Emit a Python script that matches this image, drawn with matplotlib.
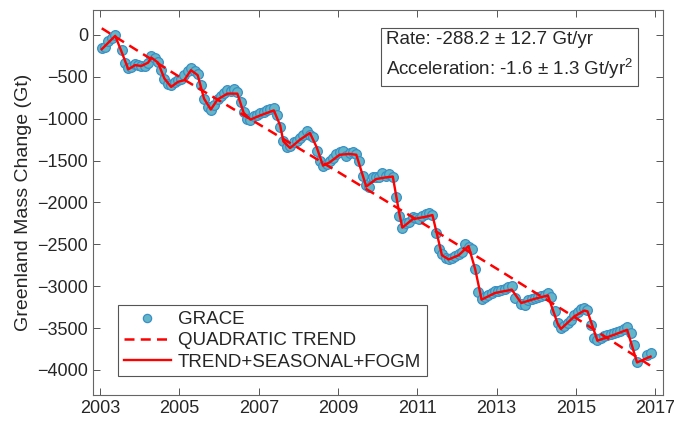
import matplotlib.pyplot as plt

plt.rcParams['font.family'] = ['Liberation Sans', 'DejaVu Sans']
plt.rcParams['mathtext.fontset'] = 'custom'
plt.rcParams['mathtext.rm'] = 'Liberation Sans'

# GRACE monthly mass change (Gt)
grace_t = [2003.04, 2003.12, 2003.21, 2003.29, 2003.38, 2003.54, 2003.62, 2003.71, 2003.79, 2003.88, 2003.96,
           2004.04, 2004.12, 2004.21, 2004.29, 2004.38, 2004.46, 2004.54, 2004.62, 2004.71, 2004.79, 2004.88, 2004.96,
           2005.04, 2005.12, 2005.21, 2005.29, 2005.38, 2005.46, 2005.54, 2005.62, 2005.71, 2005.79, 2005.88, 2005.96,
           2006.04, 2006.12, 2006.21, 2006.29, 2006.38, 2006.46, 2006.54, 2006.62, 2006.71, 2006.79, 2006.88, 2006.96,
           2007.04, 2007.12, 2007.21, 2007.29, 2007.38, 2007.46, 2007.54, 2007.62, 2007.71, 2007.79, 2007.88, 2007.96,
           2008.04, 2008.12, 2008.21, 2008.29, 2008.38, 2008.46, 2008.54, 2008.62, 2008.71, 2008.79, 2008.88, 2008.96,
           2009.04, 2009.12, 2009.21, 2009.29, 2009.38, 2009.46, 2009.54, 2009.62, 2009.71, 2009.79, 2009.88, 2009.96,
           2010.04, 2010.12, 2010.21, 2010.29, 2010.38, 2010.46, 2010.54, 2010.62, 2010.71, 2010.79, 2010.88, 2010.96,
           2011.04, 2011.12, 2011.21, 2011.29, 2011.38, 2011.46, 2011.54, 2011.62, 2011.71, 2011.79, 2011.88, 2011.96,
           2012.04, 2012.12, 2012.21, 2012.29, 2012.38, 2012.46, 2012.54, 2012.62, 2012.71, 2012.79, 2012.88, 2012.96,
           2013.04, 2013.12, 2013.21, 2013.29, 2013.38, 2013.46, 2013.62, 2013.71, 2013.79, 2013.88, 2013.96,
           2014.04, 2014.12, 2014.21, 2014.29, 2014.38, 2014.46, 2014.54, 2014.62, 2014.71, 2014.79, 2014.88, 2014.96,
           2015.04, 2015.12, 2015.21, 2015.29, 2015.38, 2015.46, 2015.54, 2015.62, 2015.71, 2015.79, 2015.88, 2015.96,
           2016.04, 2016.12, 2016.21, 2016.29, 2016.38, 2016.46, 2016.54, 2016.79, 2016.88]
grace_v = [-150, -145, -70, -30, 0, -180, -340, -400, -380, -350, -355,
           -370, -365, -330, -255, -270, -320, -420, -530, -580, -600, -560, -540,
           -530, -480, -430, -400, -430, -470, -600, -760, -860, -900, -830, -760,
           -730, -690, -660, -670, -650, -680, -800, -920, -1000, -1020, -970, -950,
           -930, -920, -900, -880, -870, -960, -1100, -1270, -1340, -1320, -1280, -1260,
           -1230, -1200, -1150, -1190, -1220, -1380, -1500, -1560, -1540, -1500, -1470, -1420,
           -1400, -1390, -1440, -1410, -1400, -1420, -1500, -1680, -1790, -1810, -1690, -1700,
           -1690, -1650, -1680, -1660, -1700, -1940, -2160, -2300, -2250, -2230, -2170, -2190,
           -2200, -2160, -2140, -2130, -2150, -2370, -2560, -2620, -2660, -2680, -2660, -2640,
           -2620, -2590, -2490, -2530, -2550, -2800, -3070, -3150, -3130, -3100, -3080, -3060,
           -3060, -3040, -3030, -3010, -3000, -3140, -3210, -3220, -3160, -3150, -3140,
           -3130, -3120, -3100, -3080, -3130, -3290, -3440, -3500, -3480, -3440, -3400, -3340,
           -3310, -3270, -3260, -3280, -3460, -3620, -3640, -3620, -3600, -3580, -3570, -3560,
           -3550, -3530, -3510, -3490, -3560, -3700, -3910, -3820, -3800]

# quadratic trend
trend_t = [2003.04, 2005, 2007, 2009, 2011, 2013, 2015, 2016.88]
trend_v = [80, -500, -1065, -1635, -2210, -2790, -3380, -3950]

# trend + seasonal + FOGM model
fit_t = [2003.04, 2003.38, 2003.54, 2003.71, 2003.88, 2004.04, 2004.21, 2004.29, 2004.46, 2004.62, 2004.79,
         2004.96, 2005.12, 2005.29, 2005.46, 2005.62, 2005.79, 2005.96, 2006.21, 2006.46, 2006.62, 2006.79,
         2007.04, 2007.38, 2007.54, 2007.62, 2007.79, 2008.04, 2008.29, 2008.46, 2008.62, 2008.79, 2009.04,
         2009.29, 2009.46, 2009.71, 2009.96, 2010.21, 2010.38, 2010.54, 2010.62, 2010.88, 2011.21, 2011.38,
         2011.62, 2011.79, 2012.04, 2012.29, 2012.46, 2012.62, 2012.96, 2013.29, 2013.38, 2013.62, 2013.96,
         2014.29, 2014.54, 2014.62, 2014.96, 2015.21, 2015.29, 2015.54, 2015.96, 2016.29, 2016.54, 2016.88]
fit_v = [-170, -10, -200, -410, -360, -370, -330, -270, -330, -520, -620,
         -560, -540, -420, -480, -760, -890, -770, -700, -700, -930, -1010,
         -960, -900, -1080, -1270, -1350, -1250, -1170, -1340, -1560, -1520, -1430,
         -1420, -1430, -1810, -1720, -1700, -1690, -2120, -2300, -2200, -2170, -2150,
         -2630, -2680, -2630, -2520, -2800, -3160, -3080, -3050, -3040, -3200, -3150,
         -3110, -3450, -3510, -3360, -3290, -3300, -3650, -3580, -3520, -3910, -3840]

rate_text = 'Rate: -288.2 \u00b1 12.7 Gt/yr'
acc_text = 'Acceleration: -1.6 \u00b1 1.3 Gt/yr$^{2}$'

fig = plt.figure(figsize=(6.74, 4.29), dpi=100)
ax = fig.add_axes([0.138, 0.079, 0.846, 0.898])

ax.plot(grace_t, grace_v, 'o', ms=7, mfc='#62b6c8', mec='#3a8fc6', mew=0.9, label='GRACE')
ax.plot(trend_t, trend_v, color='red', lw=1.8, dashes=(4, 2.5), label='QUADRATIC TREND')
ax.plot(fit_t, fit_v, color='red', lw=1.7, label='TREND+SEASONAL+FOGM')

ax.set_xlim(2002.82, 2017.2)
ax.set_ylim(-4300, 300)
ax.set_xticks(range(2003, 2018, 2))
ax.set_yticks(range(-4000, 1, 500))
ax.tick_params(direction='in', top=True, right=True, length=5, width=0.7,
               labelsize=13, colors='#555555', labelcolor='#262626')
for s in ax.spines.values():
    s.set_color('#666666')
    s.set_linewidth(0.8)
ax.set_ylabel('Greenland Mass Change (Gt)', fontsize=14, color='#262626')

leg = ax.legend(loc='lower left', bbox_to_anchor=(0.044, 0.049), borderaxespad=0,
                fontsize=13.5, fancybox=False, framealpha=1, edgecolor='#555555',
                handlelength=2.5, handletextpad=0.4, labelspacing=0.22, borderpad=0.3,
                markerscale=0.85)
leg.get_frame().set_linewidth(0.8)
for t in leg.get_texts():
    t.set_color('#262626')

ax.text(0.947, 0.946, rate_text + '\n' + acc_text, transform=ax.transAxes,
        ha='right', va='top', multialignment='left', fontsize=13.5, color='#262626',
        linespacing=1.45,
        bbox=dict(boxstyle='square,pad=0.25', fc='white', ec='#555555', lw=0.8))

fig.savefig('out.png', dpi=100)
